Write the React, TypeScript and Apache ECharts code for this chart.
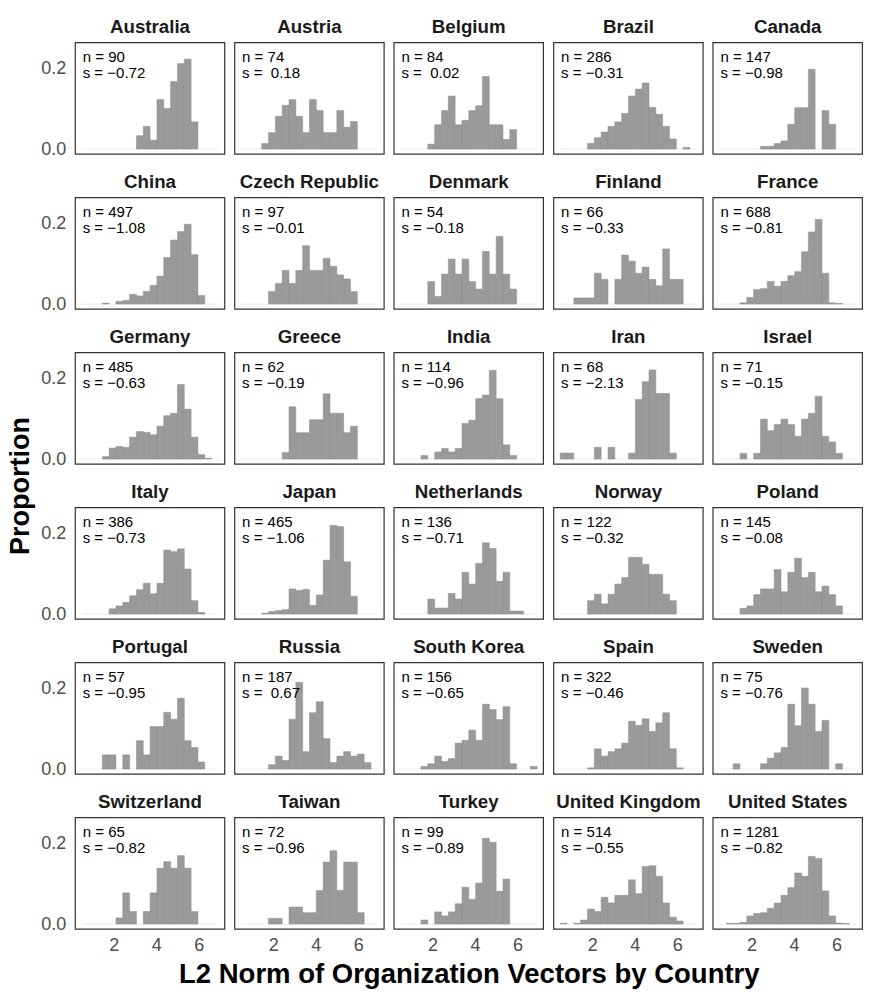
import { useEffect, useRef } from "react";
import * as echarts from "echarts";

// ---------- data ----------
const countries = [
  "Australia", "Austria", "Belgium", "Brazil", "Canada",
  "China", "Czech Republic", "Denmark", "Finland", "France",
  "Germany", "Greece", "India", "Iran", "Israel",
  "Italy", "Japan", "Netherlands", "Norway", "Poland",
  "Portugal", "Russia", "South Korea", "Spain", "Sweden",
  "Switzerland", "Taiwan", "Turkey", "United Kingdom", "United States",
];
const sampleSizes = [
  90, 74, 84, 286, 147,
  497, 97, 54, 66, 688,
  485, 62, 114, 68, 71,
  386, 465, 136, 122, 145,
  57, 187, 156, 322, 75,
  65, 72, 99, 514, 1281,
];
const skewness = [
  -0.72, 0.18, 0.02, -0.31, -0.98,
  -1.08, -0.01, -0.18, -0.33, -0.81,
  -0.63, -0.19, -0.96, -2.13, -0.15,
  -0.73, -1.06, -0.71, -0.32, -0.08,
  -0.95, 0.67, -0.65, -0.46, -0.76,
  -0.82, -0.96, -0.89, -0.55, -0.82,
];

// histogram bins: 20 bins, shared across panels
const binStart = 0.465;
const binWidth = 0.322;
const binCount = 20;

// proportions per bin (20 bins each)
const australia = [0, 0, 0, 0, 0, 0, 0, 0, 0.033, 0.056, 0.022, 0.122, 0.1, 0.167, 0.211, 0.222, 0.067, 0, 0, 0];
const austria = [0, 0, 0, 0.0135, 0.0405, 0.081, 0.108, 0.122, 0.081, 0.0405, 0.122, 0.095, 0.0405, 0.0405, 0.095, 0.054, 0.068, 0, 0, 0];
const belgium = [0, 0, 0, 0, 0.012, 0.06, 0.095, 0.131, 0.06, 0.071, 0.095, 0.107, 0.179, 0.06, 0.06, 0.024, 0.048, 0, 0, 0];
const brazil = [0, 0, 0, 0, 0.014, 0.028, 0.042, 0.056, 0.067, 0.088, 0.131, 0.148, 0.163, 0.103, 0.086, 0.056, 0.025, 0, 0.0035, 0];
const canada = [0, 0, 0, 0, 0, 0, 0.0068, 0.0068, 0.0136, 0.02, 0.061, 0.102, 0.102, 0.197, 0, 0.095, 0.061, 0, 0, 0];
const china = [0, 0, 0, 0.002, 0, 0.0066, 0.009, 0.024, 0.02, 0.0315, 0.046, 0.069, 0.115, 0.158, 0.179, 0.197, 0.122, 0.021, 0, 0];
const czechRepublic = [0, 0, 0, 0, 0.031, 0.051, 0.083, 0.051, 0.083, 0.144, 0.083, 0.083, 0.113, 0.093, 0.072, 0.062, 0.031, 0, 0, 0];
const denmark = [0, 0, 0, 0, 0.0556, 0.0185, 0.074, 0.111, 0.074, 0.111, 0.0556, 0.037, 0.13, 0.074, 0.167, 0.074, 0.037, 0, 0, 0];
const finland = [0, 0, 0.015, 0.015, 0.015, 0.076, 0.061, 0, 0.061, 0.121, 0.106, 0.076, 0.091, 0.061, 0.045, 0.136, 0.061, 0.061, 0, 0];
const france = [0, 0, 0, 0.003, 0.0166, 0.036, 0.038, 0.056, 0.044, 0.056, 0.07, 0.08, 0.129, 0.178, 0.209, 0.076, 0.003, 0.0015, 0, 0];
const germany = [0, 0, 0, 0.006, 0.027, 0.031, 0.029, 0.054, 0.068, 0.066, 0.06, 0.081, 0.107, 0.113, 0.184, 0.123, 0.054, 0.011, 0.002, 0];
const greece = [0, 0, 0, 0, 0, 0, 0.016, 0.129, 0.065, 0.065, 0.097, 0.097, 0.161, 0.113, 0.113, 0.065, 0.081, 0, 0, 0];
const india = [0, 0, 0, 0.0088, 0, 0.0175, 0.026, 0.0175, 0.026, 0.088, 0.096, 0.149, 0.158, 0.219, 0.149, 0.035, 0.0088, 0, 0, 0];
const iran = [0.0147, 0.0147, 0, 0, 0, 0.029, 0, 0.029, 0, 0, 0.0147, 0.147, 0.191, 0.22, 0.162, 0.162, 0.0147, 0, 0, 0];
const israel = [0, 0, 0, 0.014, 0, 0.014, 0.0986, 0.07, 0.085, 0.0986, 0.085, 0.056, 0.0986, 0.113, 0.155, 0.056, 0.042, 0.014, 0, 0];
const italy = [0, 0, 0, 0, 0.013, 0.02, 0.029, 0.045, 0.06, 0.076, 0.05, 0.076, 0.158, 0.154, 0.161, 0.111, 0.033, 0.004, 0, 0];
const japan = [0, 0, 0, 0.002, 0.006, 0.0086, 0.011, 0.062, 0.058, 0.061, 0.0215, 0.047, 0.133, 0.219, 0.216, 0.129, 0.044, 0, 0, 0];
const netherlands = [0, 0, 0, 0, 0.037, 0.0147, 0.0147, 0.051, 0.037, 0.103, 0.074, 0.125, 0.176, 0.162, 0.081, 0.103, 0.0074, 0.0074, 0, 0];
const norway = [0, 0, 0, 0, 0.033, 0.049, 0.025, 0.049, 0.074, 0.09, 0.14, 0.14, 0.123, 0.098, 0.098, 0.049, 0.033, 0, 0, 0];
const poland = [0, 0, 0, 0.0138, 0.02, 0.048, 0.062, 0.062, 0.11, 0.055, 0.103, 0.138, 0.09, 0.103, 0.055, 0.069, 0.048, 0.02, 0, 0];
const portugal = [0, 0, 0, 0.035, 0.035, 0, 0.035, 0, 0.07, 0.035, 0.105, 0.105, 0.14, 0.123, 0.175, 0.07, 0.053, 0.0175, 0, 0];
const russia = [0, 0, 0, 0, 0.0107, 0.032, 0.021, 0.123, 0.214, 0.043, 0.139, 0.166, 0.075, 0.016, 0.032, 0.043, 0.032, 0.037, 0.016, 0];
const southKorea = [0, 0, 0, 0.0064, 0.0128, 0.032, 0.019, 0.026, 0.064, 0.071, 0.096, 0.071, 0.16, 0.147, 0.122, 0.154, 0.0128, 0, 0, 0.0064];
const spain = [0, 0, 0, 0, 0.003, 0.05, 0.032, 0.043, 0.05, 0.064, 0.118, 0.108, 0.124, 0.093, 0.114, 0.139, 0.05, 0.003, 0, 0];
const sweden = [0, 0, 0.013, 0, 0, 0, 0.013, 0.027, 0.04, 0.053, 0.16, 0.107, 0.2, 0.16, 0.093, 0.12, 0, 0.013, 0, 0];
const switzerland = [0, 0, 0, 0, 0, 0.015, 0.077, 0.031, 0, 0.031, 0.077, 0.138, 0.154, 0.138, 0.169, 0.138, 0.031, 0, 0, 0];
const taiwan = [0, 0, 0, 0, 0.014, 0.014, 0, 0.042, 0.042, 0.028, 0.028, 0.083, 0.153, 0.181, 0.083, 0.153, 0.153, 0.028, 0, 0];
const turkey = [0, 0, 0, 0.01, 0, 0.03, 0.02, 0.03, 0.05, 0.091, 0.061, 0.101, 0.212, 0.202, 0.081, 0.111, 0, 0, 0, 0];
const unitedKingdom = [0.002, 0, 0.002, 0.01, 0.037, 0.031, 0.066, 0.052, 0.071, 0.071, 0.109, 0.075, 0.142, 0.144, 0.118, 0.052, 0.017, 0.0075, 0, 0];
const unitedStates = [0, 0.0016, 0.0016, 0.004, 0.02, 0.026, 0.028, 0.039, 0.052, 0.071, 0.09, 0.126, 0.118, 0.167, 0.162, 0.082, 0.02, 0.0025, 0.001, 0];

const histograms = [
  australia, austria, belgium, brazil, canada,
  china, czechRepublic, denmark, finland, france,
  germany, greece, india, iran, israel,
  italy, japan, netherlands, norway, poland,
  portugal, russia, southKorea, spain, sweden,
  switzerland, taiwan, turkey, unitedKingdom, unitedStates,
];

const yTicks = [0, 0.2];
const xTicks = [2, 4, 6];
const xAxisTitle = "L2 Norm of Organization Vectors by Country";
const yAxisTitle = "Proportion";

// ---------- layout ----------
const FONT = "'Liberation Sans', Arial, Helvetica, sans-serif";
const colLefts = [75.3, 234.7, 394, 553.7, 713];
const rowTops = [42.7, 197.7, 352.7, 507.7, 662.7, 817.7];
const panelW = 149.4;
const panelH = 111.4;

function fmtSkew(v: number): string {
  return v < 0 ? "\u2212" + Math.abs(v).toFixed(2) : " " + v.toFixed(2);
}

function buildOption() {
  const grid: any[] = [];
  const xAxis: any[] = [];
  const yAxis: any[] = [];
  const series: any[] = [];
  const graphic: any[] = [];

  countries.forEach((name, i) => {
    const col = i % 5;
    const row = Math.floor(i / 5);
    const left = colLefts[col];
    const top = rowTops[row];
    grid.push({
      left, top, width: panelW, height: panelH,
      show: true, borderColor: "#333333", borderWidth: 1.2, backgroundColor: "#ffffff",
      containLabel: false,
    });
    xAxis.push({
      type: "value", gridIndex: i, min: 0.16, max: 7.2,
      axisLine: { show: false }, axisTick: { show: false }, splitLine: { show: false },
      axisLabel: {
        show: row === 5, customValues: xTicks, formatter: (v: number) => String(v),
        fontSize: 18, color: "#4d4d4d", fontFamily: FONT, margin: 7,
      },
    });
    yAxis.push({
      type: "value", gridIndex: i, min: -0.0125, max: 0.2625,
      axisLine: { show: false }, axisTick: { show: false }, splitLine: { show: false },
      axisLabel: {
        show: col === 0, customValues: yTicks, formatter: (v: number) => v.toFixed(1),
        fontSize: 18, color: "#4d4d4d", fontFamily: FONT, margin: 9,
      },
    });
    // faint zero line spanning all bins
    series.push({
      type: "line", xAxisIndex: i, yAxisIndex: i, silent: true, z: 1,
      symbol: "none", lineStyle: { color: "#ebebeb", width: 1 },
      data: [[binStart, 0], [binStart + binCount * binWidth, 0]],
    });
    const bars = histograms[i]
      .map((v, k) => [binStart + (k + 0.5) * binWidth, v])
      .filter((d) => d[1] > 0);
    series.push({
      type: "custom", xAxisIndex: i, yAxisIndex: i, z: 2, silent: true,
      data: bars,
      renderItem: (_params: any, api: any) => {
        const c = api.value(0);
        const v = api.value(1);
        const p0 = api.coord([c - binWidth / 2, v]);
        const p1 = api.coord([c + binWidth / 2, 0]);
        return {
          type: "rect",
          shape: { x: p0[0], y: p0[1], width: p1[0] - p0[0], height: p1[1] - p0[1] },
          style: { fill: "#9a9a9a", stroke: "#8c8c8c", lineWidth: 0.5 },
        };
      },
    });
    // panel title
    graphic.push({
      type: "text", x: left + panelW / 2, y: top - 16.7, silent: true,
      style: {
        text: name, fontSize: 18.7, fontWeight: "bold", fontFamily: FONT, fill: "#1a1a1a",
        align: "center", verticalAlign: "middle", textAlign: "center", textVerticalAlign: "middle",
      },
    });
    // n / s annotation
    graphic.push({
      type: "text", x: left + 7.4, y: top + 5.3, silent: true, z: 10,
      style: {
        text: "n = " + sampleSizes[i] + "\ns = " + fmtSkew(skewness[i]),
        fontSize: 15, lineHeight: 16, fontFamily: FONT, fill: "#000000",
        align: "left", verticalAlign: "top", textAlign: "left", textVerticalAlign: "top",
      },
    });
  });

  graphic.push({
    type: "text", x: 469.3, y: 973.3, silent: true,
    style: {
      text: xAxisTitle, fontSize: 27.5, fontWeight: "bold", fontFamily: FONT, fill: "#000000",
      align: "center", verticalAlign: "middle", textAlign: "center", textVerticalAlign: "middle",
    },
  });
  graphic.push({
    type: "text", x: 20, y: 486, rotation: Math.PI / 2, silent: true,
    style: {
      text: yAxisTitle, fontSize: 27, fontWeight: "bold", fontFamily: FONT, fill: "#000000",
      align: "center", verticalAlign: "middle", textAlign: "center", textVerticalAlign: "middle",
    },
  });

  return {
    animation: false,
    backgroundColor: "#ffffff",
    textStyle: { fontFamily: FONT },
    grid, xAxis, yAxis, series, graphic,
  };
}

export default function App() {
  const ref = useRef<HTMLDivElement>(null);
  useEffect(() => {
    if (!ref.current) return;
    const chart = echarts.init(ref.current, undefined, { renderer: "svg" });
    chart.setOption(buildOption() as any);
    return () => chart.dispose();
  }, []);
  return (
    <div
      ref={ref}
      style={{ position: "absolute", left: 0, top: 0, width: 872, height: 996, background: "#fff" }}
    />
  );
}
